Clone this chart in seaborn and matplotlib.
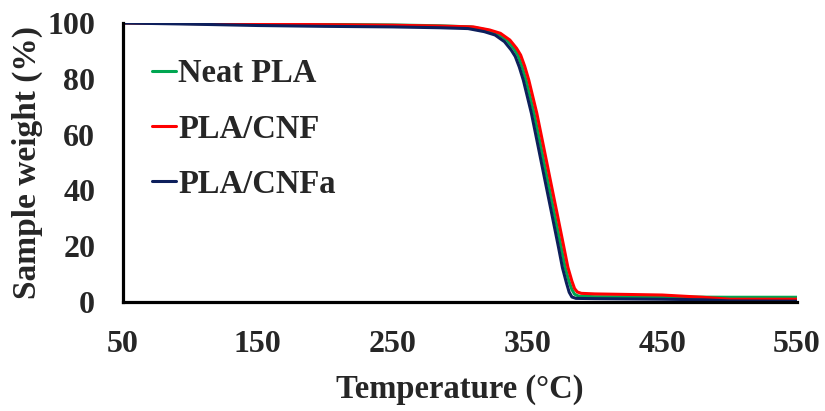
import numpy as np
import pandas as pd
import matplotlib
matplotlib.use("Agg")
import matplotlib.pyplot as plt
import seaborn as sns

# Data
temp_neat = [50, 100, 150, 200, 250, 285, 308, 320, 328, 335, 340, 343, 346, 349, 355, 360, 365, 370, 375, 378, 381, 383, 385, 388, 400, 450, 500, 550]
w_neat = [100, 99.8, 99.6, 99.5, 99.3, 99.0, 98.6, 97.5, 96.2, 93.8, 90.8, 88.4, 84.4, 79.5, 67.5, 55.6, 43.6, 31.7, 19.7, 12.4, 7.2, 4.5, 2.8, 2.1, 1.9, 1.8, 1.7, 1.7]

temp_cnf = [50, 100, 150, 200, 250, 285, 310, 322, 330, 337, 342, 345, 348, 351, 357, 362, 367, 372, 377, 380, 383, 385, 387, 390, 400, 450, 480, 500, 550]
w_cnf = [100, 99.8, 99.6, 99.4, 99.2, 98.9, 98.6, 97.5, 96.3, 93.9, 90.9, 88.5, 84.5, 79.6, 67.6, 55.7, 43.7, 31.8, 19.8, 12.5, 7.5, 4.8, 3.6, 3.1, 2.9, 2.5, 1.7, 1.0, 1.0]

temp_cnfa = [50, 100, 150, 200, 250, 285, 306, 318, 326, 333, 338, 341, 344, 347, 353, 358, 363, 368, 373, 376, 379, 381, 383, 386, 400, 450, 480, 500, 550]
w_cnfa = [100, 99.6, 99.1, 98.8, 98.6, 98.3, 98.0, 96.9, 95.7, 93.3, 90.3, 88.0, 84.2, 79.5, 67.6, 55.7, 43.7, 31.8, 19.8, 12.3, 6.8, 3.5, 1.8, 1.3, 1.2, 1.0, 0.8, 0.4, 0.3]

series_names = ["Neat PLA", "PLA/CNF", "PLA/CNFa"]
colors = ["#00A651", "#FF0000", "#0D1F5C"]
x_ticks = [50, 150, 250, 350, 450, 550]
y_ticks = [0, 20, 40, 60, 80, 100]

df = pd.concat([
    pd.DataFrame({"T": temp_neat, "w": w_neat, "s": series_names[0]}),
    pd.DataFrame({"T": temp_cnf, "w": w_cnf, "s": series_names[1]}),
    pd.DataFrame({"T": temp_cnfa, "w": w_cnfa, "s": series_names[2]}),
], ignore_index=True)

sns.set_style("white")
plt.rcParams["font.family"] = ["Liberation Serif", "DejaVu Serif"]
plt.rcParams["font.weight"] = "bold"

fig = plt.figure(figsize=(8.25, 4.11), dpi=100)
ax = fig.add_axes([123 / 825, 1 - 302 / 411, 674 / 825, 279 / 411])

sns.lineplot(data=df, x="T", y="w", hue="s", hue_order=series_names,
             palette=dict(zip(series_names, colors)), linewidth=2.2,
             sort=True, estimator=None, ax=ax)

ax.set_xlim(50, 550)
ax.set_ylim(0, 100)
ax.set_xticks(x_ticks)
ax.set_yticks(y_ticks)
ax.tick_params(axis="both", length=0, labelsize=23)
ax.tick_params(axis="y", pad=20)
ax.tick_params(axis="x", pad=20)
for lab in ax.get_xticklabels() + ax.get_yticklabels():
    lab.set_fontweight("bold")

ax.set_xlabel("Temperature (°C)", fontsize=23.5, fontweight="bold", labelpad=11)
ax.set_ylabel("Sample weight (%)", fontsize=24, fontweight="bold", labelpad=3)

for side in ["top", "right"]:
    ax.spines[side].set_visible(False)
for side in ["left", "bottom"]:
    ax.spines[side].set_color("black")
    ax.spines[side].set_linewidth(2.3)
ax.grid(False)

leg = ax.legend(loc="upper left", bbox_to_anchor=(0.043, 0.873), frameon=False,
                fontsize=23.5, handlelength=0.74, handletextpad=0.06,
                labelspacing=0.74, borderpad=0, borderaxespad=0)
for t in leg.get_texts():
    t.set_fontweight("bold")
for h in leg.get_lines():
    h.set_linewidth(2.2)

fig.savefig("out.png", dpi=100)
